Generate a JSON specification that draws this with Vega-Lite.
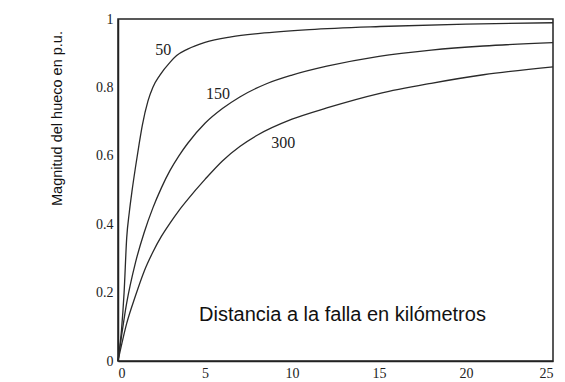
{
  "$schema": "https://vega.github.io/schema/vega-lite/v6.json",
  "width": 435,
  "height": 342,
  "autosize": {"type": "none"},
  "padding": {"left": 118, "top": 19, "right": 12, "bottom": 21},
  "background": "white",
  "config": {
    "view": {"stroke": "#222", "strokeWidth": 1.5},
    "axis": {
      "grid": false,
      "ticks": false,
      "domainColor": "#222",
      "domainWidth": 1.5,
      "labelFont": "Liberation Serif",
      "labelFontSize": 14,
      "labelColor": "#222",
      "labelPadding": 5,
      "titleFont": "Liberation Sans",
      "titleFontWeight": "normal",
      "titleColor": "#111"
    }
  },
  "datasets": {
    "curves": [
      {"potencia": "50", "distancia": 0, "magnitud": 0},
      {"potencia": "50", "distancia": 0.2, "magnitud": 0.09},
      {"potencia": "50", "distancia": 0.35, "magnitud": 0.2},
      {"potencia": "50", "distancia": 0.5, "magnitud": 0.36},
      {"potencia": "50", "distancia": 0.65, "magnitud": 0.435},
      {"potencia": "50", "distancia": 0.8, "magnitud": 0.495},
      {"potencia": "50", "distancia": 1.0, "magnitud": 0.565},
      {"potencia": "50", "distancia": 1.2, "magnitud": 0.63},
      {"potencia": "50", "distancia": 1.4, "magnitud": 0.69},
      {"potencia": "50", "distancia": 1.72, "magnitud": 0.76},
      {"potencia": "50", "distancia": 2.0, "magnitud": 0.8},
      {"potencia": "50", "distancia": 2.41, "magnitud": 0.836},
      {"potencia": "50", "distancia": 3.0, "magnitud": 0.874},
      {"potencia": "50", "distancia": 3.37, "magnitud": 0.893},
      {"potencia": "50", "distancia": 4.0, "magnitud": 0.912},
      {"potencia": "50", "distancia": 5.0, "magnitud": 0.932},
      {"potencia": "50", "distancia": 6.5, "magnitud": 0.948},
      {"potencia": "50", "distancia": 8.16, "magnitud": 0.958},
      {"potencia": "50", "distancia": 11, "magnitud": 0.969},
      {"potencia": "50", "distancia": 15.06, "magnitud": 0.978},
      {"potencia": "50", "distancia": 20, "magnitud": 0.985},
      {"potencia": "50", "distancia": 25, "magnitud": 0.989},
      {"potencia": "150", "distancia": 0, "magnitud": 0},
      {"potencia": "150", "distancia": 0.5, "magnitud": 0.17},
      {"potencia": "150", "distancia": 1.0, "magnitud": 0.287},
      {"potencia": "150", "distancia": 1.5, "magnitud": 0.375},
      {"potencia": "150", "distancia": 2.0, "magnitud": 0.447},
      {"potencia": "150", "distancia": 2.5, "magnitud": 0.507},
      {"potencia": "150", "distancia": 3.0, "magnitud": 0.558},
      {"potencia": "150", "distancia": 3.5, "magnitud": 0.6},
      {"potencia": "150", "distancia": 4.0, "magnitud": 0.636},
      {"potencia": "150", "distancia": 5.0, "magnitud": 0.695},
      {"potencia": "150", "distancia": 6.0, "magnitud": 0.738},
      {"potencia": "150", "distancia": 7.0, "magnitud": 0.772},
      {"potencia": "150", "distancia": 8.5, "magnitud": 0.81},
      {"potencia": "150", "distancia": 10, "magnitud": 0.836},
      {"potencia": "150", "distancia": 12, "magnitud": 0.862},
      {"potencia": "150", "distancia": 15, "magnitud": 0.891},
      {"potencia": "150", "distancia": 18, "magnitud": 0.909},
      {"potencia": "150", "distancia": 21, "magnitud": 0.921},
      {"potencia": "150", "distancia": 25, "magnitud": 0.931},
      {"potencia": "300", "distancia": 0, "magnitud": 0},
      {"potencia": "300", "distancia": 0.5, "magnitud": 0.11},
      {"potencia": "300", "distancia": 1.0, "magnitud": 0.19},
      {"potencia": "300", "distancia": 1.5, "magnitud": 0.262},
      {"potencia": "300", "distancia": 2.0, "magnitud": 0.318},
      {"potencia": "300", "distancia": 2.5, "magnitud": 0.365},
      {"potencia": "300", "distancia": 3.0, "magnitud": 0.404},
      {"potencia": "300", "distancia": 3.5, "magnitud": 0.44},
      {"potencia": "300", "distancia": 4.0, "magnitud": 0.472},
      {"potencia": "300", "distancia": 5.0, "magnitud": 0.531},
      {"potencia": "300", "distancia": 6.0, "magnitud": 0.585},
      {"potencia": "300", "distancia": 7.0, "magnitud": 0.627},
      {"potencia": "300", "distancia": 8.0, "magnitud": 0.66},
      {"potencia": "300", "distancia": 10, "magnitud": 0.707},
      {"potencia": "300", "distancia": 12, "magnitud": 0.74},
      {"potencia": "300", "distancia": 15, "magnitud": 0.782},
      {"potencia": "300", "distancia": 18, "magnitud": 0.812},
      {"potencia": "300", "distancia": 21, "magnitud": 0.837},
      {"potencia": "300", "distancia": 25, "magnitud": 0.86}
    ],
    "etiquetas": [
      {"potencia": "50", "distancia": 2.6, "magnitud": 0.909},
      {"potencia": "150", "distancia": 5.75, "magnitud": 0.78},
      {"potencia": "300", "distancia": 9.5, "magnitud": 0.637}
    ]
  },
  "layer": [
    {
      "data": {"name": "curves"},
      "mark": {"type": "line", "interpolate": "monotone", "color": "#2a2a2a", "strokeWidth": 1.3},
      "encoding": {
        "x": {
          "field": "distancia",
          "type": "quantitative",
          "scale": {"domain": [0, 25], "nice": false},
          "axis": {
            "values": [0, 5, 10, 15, 20, 25],
            "format": "~g",
            "title": "Distancia a la falla en kilómetros",
            "titleFontSize": 20,
            "titleX": 224,
            "titleY": -47,
            "titleAlign": "center",
            "titleBaseline": "middle"
          }
        },
        "y": {
          "field": "magnitud",
          "type": "quantitative",
          "scale": {"domain": [0, 1], "nice": false},
          "axis": {
            "values": [0, 0.2, 0.4, 0.6, 0.8, 1],
            "format": "~g",
            "title": "Magnitud del hueco en p.u.",
            "titleFontSize": 14.5,
            "titleAngle": -90,
            "titleX": -61,
            "titleY": 99,
            "titleAlign": "center",
            "titleBaseline": "middle"
          }
        },
        "detail": {"field": "potencia", "type": "nominal"}
      }
    },
    {
      "data": {"name": "etiquetas"},
      "mark": {"type": "text", "font": "Liberation Serif", "fontSize": 16, "color": "#222"},
      "encoding": {
        "x": {"field": "distancia", "type": "quantitative"},
        "y": {"field": "magnitud", "type": "quantitative"},
        "text": {"field": "potencia", "type": "nominal"}
      }
    }
  ]
}
